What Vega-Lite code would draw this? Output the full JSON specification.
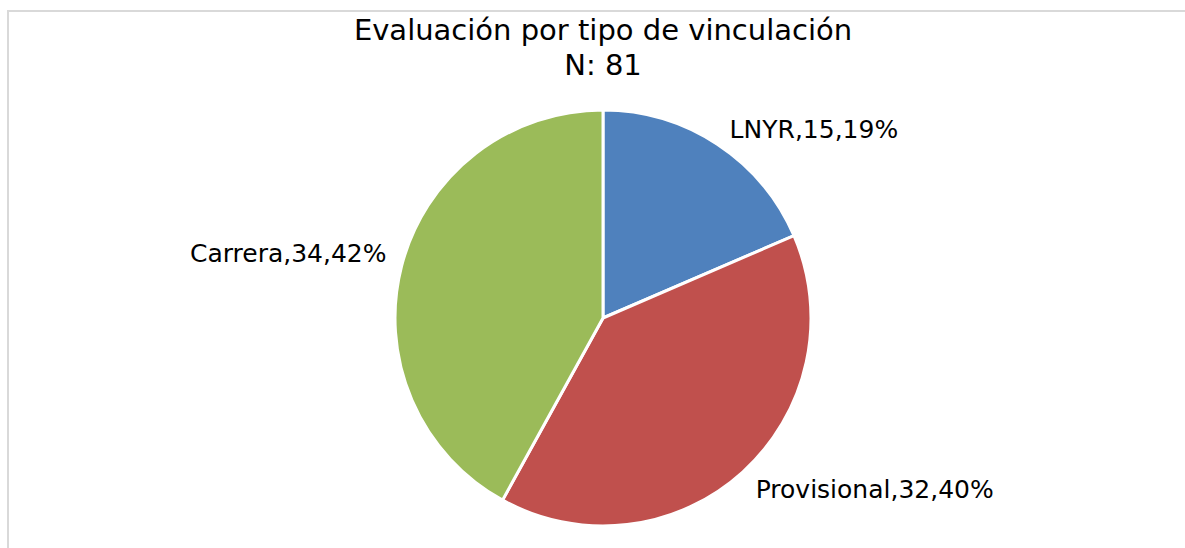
{
  "$schema": "https://vega.github.io/schema/vega-lite/v6.json",
  "width": 1190,
  "height": 614,
  "autosize": {"type": "none"},
  "padding": {"left": 8, "top": 11, "right": 0, "bottom": 0},
  "background": "white",
  "view": {"stroke": "#d9d9d9", "strokeWidth": 2},
  "title": {
    "text": ["Evaluación por tipo de vinculación", "N: 81"],
    "anchor": "middle",
    "frame": "group",
    "font": "DejaVu Sans",
    "fontSize": 29,
    "fontWeight": "normal",
    "color": "#000000",
    "lineHeight": 35,
    "baseline": "alphabetic",
    "offset": -93
  },
  "data": {
    "values": [
      {"tipo": "LNYR", "n": 15, "orden": 1, "etiqueta": "LNYR,15,19%"},
      {"tipo": "Provisional", "n": 32, "orden": 2, "etiqueta": "Provisional,32,40%"},
      {"tipo": "Carrera", "n": 34, "orden": 3, "etiqueta": "Carrera,34,42%"}
    ]
  },
  "encoding": {
    "theta": {"field": "n", "type": "quantitative", "stack": true},
    "order": {"field": "orden", "type": "quantitative"}
  },
  "layer": [
    {
      "mark": {"type": "arc", "outerRadius": 208, "stroke": "white", "strokeWidth": 3},
      "encoding": {
        "color": {
          "field": "tipo",
          "type": "nominal",
          "scale": {"domain": ["LNYR", "Provisional", "Carrera"], "range": ["#4F81BD", "#C0504D", "#9BBB59"]},
          "legend": null
        }
      }
    },
    {
      "mark": {"type": "text", "radius": 260, "dx": 68, "dy": 29, "font": "DejaVu Sans", "fontSize": 25, "align": "center", "baseline": "middle", "color": "#000000"},
      "encoding": {
        "text": {"condition": {"test": "datum.tipo === 'LNYR'", "field": "etiqueta", "type": "nominal"}, "value": ""}
      }
    },
    {
      "mark": {"type": "text", "radius": 260, "dx": 97, "dy": -21, "font": "DejaVu Sans", "fontSize": 25, "align": "center", "baseline": "middle", "color": "#000000"},
      "encoding": {
        "text": {"condition": {"test": "datum.tipo === 'Provisional'", "field": "etiqueta", "type": "nominal"}, "value": ""}
      }
    },
    {
      "mark": {"type": "text", "radius": 260, "dx": -63, "dy": 1, "font": "DejaVu Sans", "fontSize": 25, "align": "center", "baseline": "middle", "color": "#000000"},
      "encoding": {
        "text": {"condition": {"test": "datum.tipo === 'Carrera'", "field": "etiqueta", "type": "nominal"}, "value": ""}
      }
    }
  ]
}
